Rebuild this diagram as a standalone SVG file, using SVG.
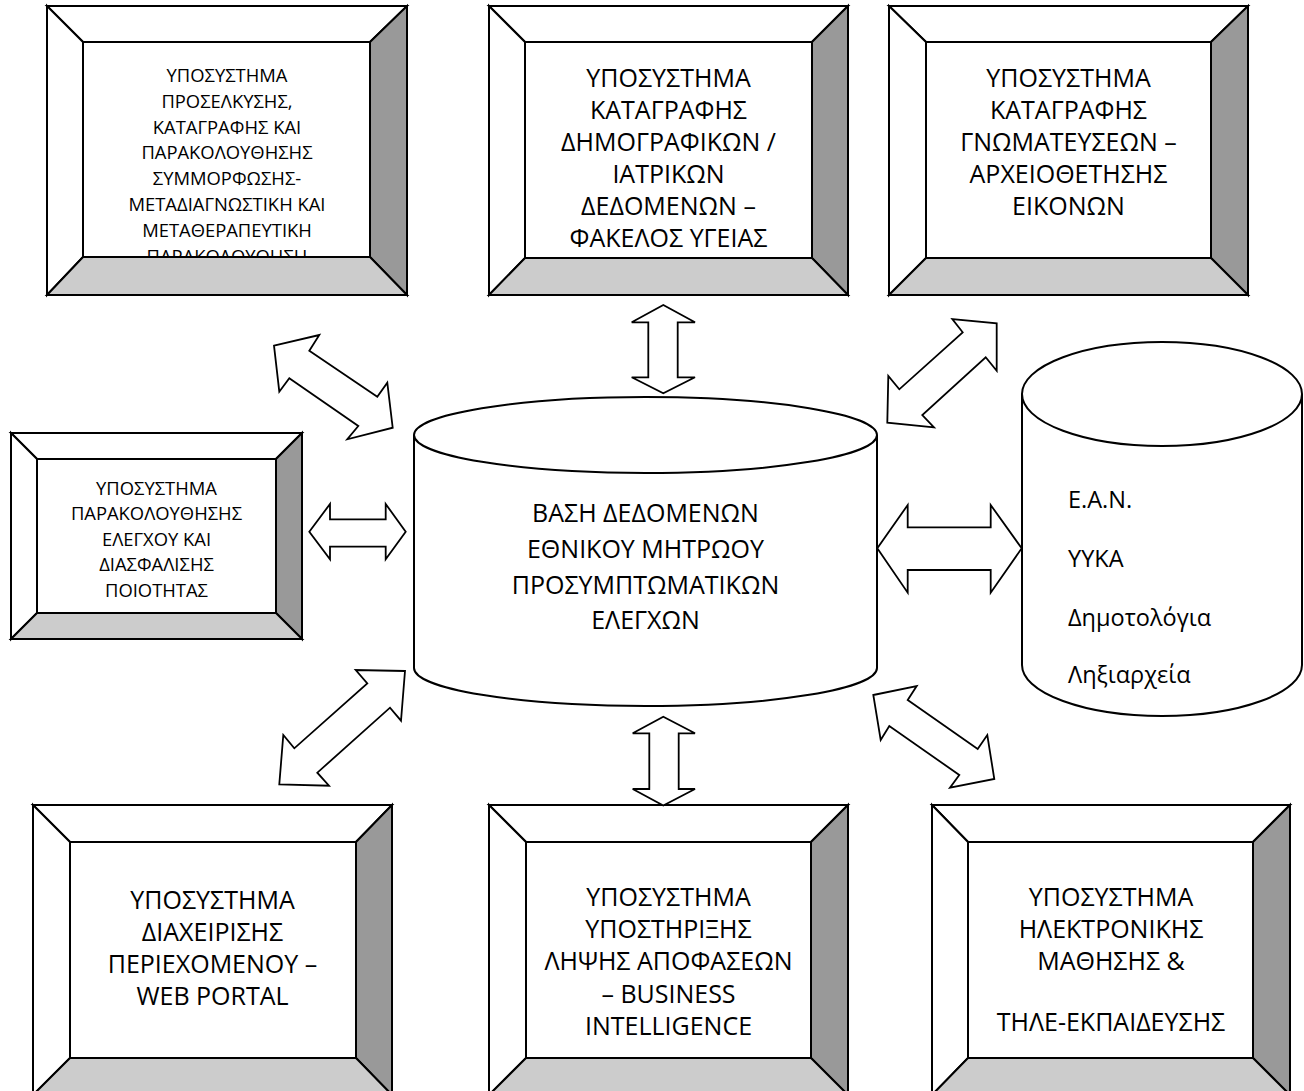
<svg xmlns="http://www.w3.org/2000/svg" width="1304" height="1091" viewBox="0 0 1304 1091">
<style>
.fr{fill:#fff;stroke:#000;stroke-width:2;stroke-linejoin:miter}
.rt{fill:#999;stroke:#000;stroke-width:2}
.bt{fill:#ccc;stroke:#000;stroke-width:2}
.t{font-family:"Open Sans","Liberation Sans",sans-serif;font-size:25px;fill:#000;text-anchor:middle}
.s{font-family:"Open Sans","Liberation Sans",sans-serif;font-size:18.4px;fill:#000;text-anchor:middle}
.l{font-family:"Open Sans","Liberation Sans",sans-serif;font-size:23.5px;fill:#000}
.ar{fill:#fff;stroke:#000;stroke-width:1.8;stroke-linejoin:miter}
.cy{fill:#fff;stroke:#000;stroke-width:2}
</style>
<rect width="1304" height="1091" fill="#fff"/>

<g id="box-proselkysi">
<rect class="fr" x="47" y="6" width="360" height="289"/>
<rect class="fr" x="83" y="42" width="287" height="215"/>
<text class="s"><tspan x="227" y="82">ΥΠΟΣΥΣΤΗΜΑ</tspan><tspan x="227" y="107.8">ΠΡΟΣΕΛΚΥΣΗΣ,</tspan><tspan x="227" y="133.6">ΚΑΤΑΓΡΑΦΗΣ ΚΑΙ</tspan><tspan x="227" y="159.4">ΠΑΡΑΚΟΛΟΥΘΗΣΗΣ</tspan><tspan x="227" y="185.2">ΣΥΜΜΟΡΦΩΣΗΣ-</tspan><tspan x="227" y="211">ΜΕΤΑΔΙΑΓΝΩΣΤΙΚΗ ΚΑΙ</tspan><tspan x="227" y="236.8">ΜΕΤΑΘΕΡΑΠΕΥΤΙΚΗ</tspan><tspan x="227" y="262.6">ΠΑΡΑΚΟΛΟΥΘΗΣΗ</tspan></text>
<polygon class="fr" points="47,6 407,6 370,42 83,42"/>
<polygon class="fr" points="47,6 83,42 83,257 47,295"/>
<polygon class="rt" points="407,6 407,295 370,257 370,42"/>
<polygon class="bt" points="47,295 83,257 370,257 407,295"/>
</g>

<g id="box-dimografika">
<rect class="fr" x="489" y="6" width="359" height="289"/>
<rect class="fr" x="525" y="42" width="287" height="216"/>
<text class="t"><tspan x="668.5" y="87">ΥΠΟΣΥΣΤΗΜΑ</tspan><tspan x="668.5" y="119">ΚΑΤΑΓΡΑΦΗΣ</tspan><tspan x="668.5" y="151">ΔΗΜΟΓΡΑΦΙΚΩΝ /</tspan><tspan x="668.5" y="183">ΙΑΤΡΙΚΩΝ</tspan><tspan x="668.5" y="215">ΔΕΔΟΜΕΝΩΝ –</tspan><tspan x="668.5" y="247">ΦΑΚΕΛΟΣ ΥΓΕΙΑΣ</tspan></text>
<polygon class="fr" points="489,6 848,6 812,42 525,42"/>
<polygon class="fr" points="489,6 525,42 525,258 489,295"/>
<polygon class="rt" points="848,6 848,295 812,258 812,42"/>
<polygon class="bt" points="489,295 525,258 812,258 848,295"/>
</g>

<g id="box-gnomateyseis">
<rect class="fr" x="889" y="6" width="359" height="289"/>
<rect class="fr" x="926" y="42" width="285" height="216"/>
<text class="t"><tspan x="1068.5" y="87">ΥΠΟΣΥΣΤΗΜΑ</tspan><tspan x="1068.5" y="119">ΚΑΤΑΓΡΑΦΗΣ</tspan><tspan x="1068.5" y="151">ΓΝΩΜΑΤΕΥΣΕΩΝ –</tspan><tspan x="1068.5" y="183">ΑΡΧΕΙΟΘΕΤΗΣΗΣ</tspan><tspan x="1068.5" y="215">ΕΙΚΟΝΩΝ</tspan></text>
<polygon class="fr" points="889,6 1248,6 1211,42 926,42"/>
<polygon class="fr" points="889,6 926,42 926,258 889,295"/>
<polygon class="rt" points="1248,6 1248,295 1211,258 1211,42"/>
<polygon class="bt" points="889,295 926,258 1211,258 1248,295"/>
</g>

<g id="box-poiotita">
<rect class="fr" x="11" y="433" width="291" height="206"/>
<rect class="fr" x="37" y="459" width="239" height="154"/>
<text class="s"><tspan x="156.5" y="494.5">ΥΠΟΣΥΣΤΗΜΑ</tspan><tspan x="156.5" y="520">ΠΑΡΑΚΟΛΟΥΘΗΣΗΣ</tspan><tspan x="156.5" y="545.5">ΕΛΕΓΧΟΥ ΚΑΙ</tspan><tspan x="156.5" y="571">ΔΙΑΣΦΑΛΙΣΗΣ</tspan><tspan x="156.5" y="596.5">ΠΟΙΟΤΗΤΑΣ</tspan></text>
<polygon class="fr" points="11,433 302,433 276,459 37,459"/>
<polygon class="fr" points="11,433 37,459 37,613 11,639"/>
<polygon class="rt" points="302,433 302,639 276,613 276,459"/>
<polygon class="bt" points="11,639 37,613 276,613 302,639"/>
</g>

<g id="db-main">
<path class="cy" d="M414,435 A231.5,38 0 0 1 877,435 L877,668 A231.5,38 0 0 1 414,668 Z"/>
<path class="cy" fill="none" d="M414,435 A231.5,38 0 0 0 877,435"/>
<text class="t"><tspan x="645.5" y="522">ΒΑΣΗ ΔΕΔΟΜΕΝΩΝ</tspan><tspan x="645.5" y="557.5">ΕΘΝΙΚΟΥ ΜΗΤΡΩΟΥ</tspan><tspan x="645.5" y="593.5">ΠΡΟΣΥΜΠΤΩΜΑΤΙΚΩΝ</tspan><tspan x="645.5" y="629">ΕΛΕΓΧΩΝ</tspan></text>
</g>

<g id="db-external">
<path class="cy" d="M1022,394 A140,52 0 0 1 1302,394 L1302,665 A140,51 0 0 1 1022,665 Z"/>
<path class="cy" fill="none" d="M1022,394 A140,52 0 0 0 1302,394"/>
<text class="l"><tspan x="1068" y="508">Ε.Α.Ν.</tspan><tspan x="1068" y="567">ΥΥΚΑ</tspan><tspan x="1068" y="626">Δημοτολόγια</tspan><tspan x="1068" y="683">Ληξιαρχεία</tspan></text>
</g>

<g id="box-webportal">
<rect class="fr" x="33" y="805" width="359" height="290"/>
<rect class="fr" x="70" y="842" width="286" height="216"/>
<text class="t"><tspan x="212.5" y="909">ΥΠΟΣΥΣΤΗΜΑ</tspan><tspan x="212.5" y="941">ΔΙΑΧΕΙΡΙΣΗΣ</tspan><tspan x="212.5" y="973">ΠΕΡΙΕΧΟΜΕΝΟΥ –</tspan><tspan x="212.5" y="1005">WEB PORTAL</tspan></text>
<polygon class="fr" points="33,805 392,805 356,842 70,842"/>
<polygon class="fr" points="33,805 70,842 70,1058 33,1095"/>
<polygon class="rt" points="392,805 392,1095 356,1058 356,842"/>
<polygon class="bt" points="33,1095 70,1058 356,1058 392,1095"/>
</g>

<g id="box-bi">
<rect class="fr" x="489" y="805" width="359" height="290"/>
<rect class="fr" x="526" y="842" width="285" height="216"/>
<text class="t"><tspan x="668.5" y="906">ΥΠΟΣΥΣΤΗΜΑ</tspan><tspan x="668.5" y="938">ΥΠΟΣΤΗΡΙΞΗΣ</tspan><tspan x="668.5" y="970">ΛΗΨΗΣ ΑΠΟΦΑΣΕΩΝ</tspan><tspan x="668.5" y="1003">– BUSINESS</tspan><tspan x="668.5" y="1035">INTELLIGENCE</tspan></text>
<polygon class="fr" points="489,805 848,805 811,842 526,842"/>
<polygon class="fr" points="489,805 526,842 526,1058 489,1095"/>
<polygon class="rt" points="848,805 848,1095 811,1058 811,842"/>
<polygon class="bt" points="489,1095 526,1058 811,1058 848,1095"/>
</g>

<g id="box-elearning">
<rect class="fr" x="932" y="805" width="358" height="290"/>
<rect class="fr" x="968" y="842" width="285" height="216"/>
<text class="t"><tspan x="1111" y="906">ΥΠΟΣΥΣΤΗΜΑ</tspan><tspan x="1111" y="938">ΗΛΕΚΤΡΟΝΙΚΗΣ</tspan><tspan x="1111" y="970">ΜΑΘΗΣΗΣ &amp;</tspan><tspan x="1111" y="1031">ΤΗΛΕ-ΕΚΠΑΙΔΕΥΣΗΣ</tspan></text>
<polygon class="fr" points="932,805 1290,805 1253,842 968,842"/>
<polygon class="fr" points="932,805 968,842 968,1058 932,1095"/>
<polygon class="rt" points="1290,805 1290,1095 1253,1058 1253,842"/>
<polygon class="bt" points="932,1095 968,1058 1253,1058 1290,1095"/>
</g>

<g id="connectors">
<polygon class="ar" points="274,345.7 319.3,335 309.3,350.7 377.3,396.7 387.3,382.7 392.7,427.7 347.3,439.3 358.3,426 289.3,378.3 279.3,391.7"/>
<polygon class="ar" points="309.3,531.7 330,504 330,519.3 385.7,519.3 385.7,504 405.7,531.7 385.7,559.3 385.7,546.7 330,546.7 330,559.3"/>
<polygon class="ar" points="663.3,305 695,322.3 677.7,322.3 677.7,377.3 695,377.3 663.3,393.3 631.7,377.3 648.3,377.3 648.3,322.3 631.7,322.3"/>
<polygon class="ar" points="887.3,422.7 888.3,376 899.3,389.3 962.7,332.3 952.3,319 996.7,323.3 996.7,370.7 985.7,357.3 922.3,415 934,427.3"/>
<polygon class="ar" points="877.3,548.3 907.7,505 907.7,527.3 990.7,527.3 990.7,505 1021.7,548.3 990.7,592.7 990.7,570 907.7,570 907.7,592.7"/>
<polygon class="ar" points="405,671 355.7,670 367.3,683.3 294.3,748.3 283.3,735 279.3,784.3 329,785.7 317.3,772.7 390,707.7 401,720.7"/>
<polygon class="ar" points="663.3,716.7 695,733.3 678.7,733.3 678.7,789 695,789 663.3,805.5 632.7,789 649.3,789 649.3,733.3 632.7,733.3"/>
<polygon class="ar" points="873.3,695 916.7,686 907.7,700 977.7,749 987.3,735 994.3,779 950,787.7 959.3,775 889.3,726 880.7,740"/>
</g>
</svg>
